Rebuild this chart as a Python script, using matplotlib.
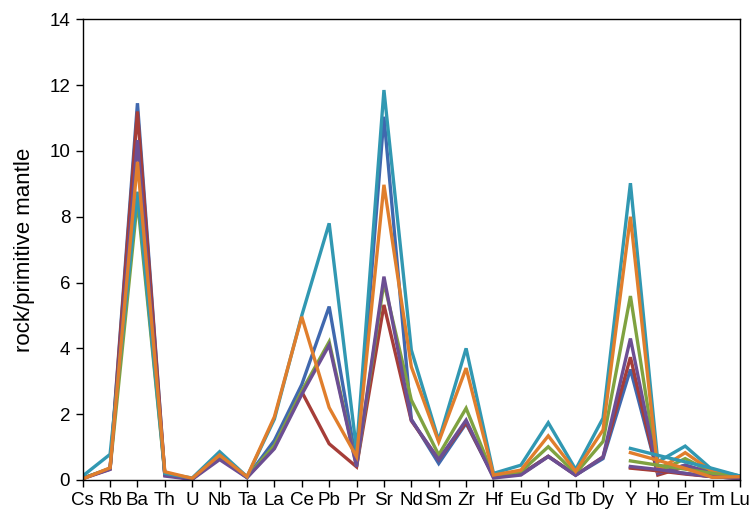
import numpy as np
import matplotlib
matplotlib.use("Agg")
import matplotlib.pyplot as plt

plt.rcParams['font.family'] = ['Liberation Sans', 'DejaVu Sans']

elements = ["Cs", "Rb", "Ba", "Th", "U", "Nb", "Ta", "La", "Ce", "Pb", "Pr", "Sr", "Nd",
            "Sm", "Zr", "Hf", "Eu", "Gd", "Tb", "Dy", "Y", "Ho", "Er", "Tm", "Lu"]

nan = np.nan
# main series (full pattern)
s_blue = [0.05, 0.35, 11.45, 0.15, 0.03, 0.7, 0.08, 1.2, 2.9, 5.27, 0.5, 11.04, 1.85,
          0.5, 1.72, 0.1, 0.18, 0.72, 0.15, 0.65, 3.36, 0.2, 0.45, 0.2, 0.08]
s_red = [0.05, 0.33, 11.2, 0.15, 0.03, 0.68, 0.08, 1.0, 2.68, 1.1, 0.4, 5.32, 1.8,
         0.62, 1.75, 0.1, 0.17, 0.72, 0.15, 0.7, 3.73, 0.15, 0.4, 0.18, 0.07]
s_green = [0.05, 0.35, 8.5, 0.18, 0.04, 0.72, 0.1, 1.05, 2.7, 4.2, 0.42, 6.0, 2.43,
           0.76, 2.18, 0.12, 0.25, 1.01, 0.2, 1.17, 5.59, 0.25, 0.65, 0.22, 0.09]
s_purple = [0.04, 0.32, 10.33, 0.12, 0.02, 0.62, 0.07, 0.95, 2.6, 4.1, 0.4, 6.18, 1.82,
            0.62, 1.82, 0.06, 0.15, 0.71, 0.14, 0.7, 4.3, 0.2, 0.45, 0.2, 0.08]
s_teal = [0.12, 0.78, 8.76, 0.2, 0.06, 0.86, 0.1, 1.85, 5.0, 7.8, 0.9, 11.85, 3.95,
          1.2, 4.0, 0.2, 0.45, 1.74, 0.32, 1.88, 9.02, 0.55, 1.03, 0.3, 0.12]
s_orange = [0.03, 0.37, 9.67, 0.25, 0.05, 0.76, 0.1, 1.92, 4.96, 2.2, 0.71, 8.97, 3.44,
            1.16, 3.4, 0.15, 0.3, 1.34, 0.26, 1.52, 8.0, 0.3, 0.83, 0.25, 0.1]

# HREE tail series (start at Y)
t_blue = [nan] * 20 + [0.38, 0.3, 0.2, 0.1, 0.05]
t_red = [nan] * 20 + [0.36, 0.28, 0.18, 0.1, 0.05]
t_green = [nan] * 20 + [0.58, 0.45, 0.33, 0.2, 0.1]
t_purple = [nan] * 20 + [0.41, 0.32, 0.2, 0.1, 0.05]
t_teal = [nan] * 20 + [0.96, 0.75, 0.55, 0.35, 0.12]
t_orange = [nan] * 20 + [0.83, 0.6, 0.35, 0.08, 0.1]

colors = {"blue": "#4068AE", "red": "#A63D38", "green": "#7FA240",
          "purple": "#6C4E93", "teal": "#3198B2", "orange": "#E07E2C"}

fig = plt.figure(figsize=(7.53, 5.16), dpi=100)
ax = fig.add_axes([0.1098, 0.0698, 0.8729, 0.8928])

x = np.arange(len(elements))
lw = 2.4
series = [("blue", s_blue, t_blue), ("red", s_red, t_red), ("green", s_green, t_green),
          ("purple", s_purple, t_purple), ("teal", s_teal, t_teal), ("orange", s_orange, t_orange)]
for name, s, t in series:
    ax.plot(x, s, color=colors[name], lw=lw, solid_joinstyle='miter')
for name, s, t in series:
    ax.plot(x, t, color=colors[name], lw=lw, solid_joinstyle='miter')

ax.set_xlim(0, len(elements) - 1)
ax.set_ylim(0, 14)
ax.set_xticks(x)
ax.set_xticklabels(elements, fontsize=13.5)
ax.set_yticks(np.arange(0, 15, 2))
ax.set_yticklabels([str(v) for v in range(0, 15, 2)], fontsize=13.5)
ax.tick_params(axis='both', direction='out', length=5, width=1, colors='black', pad=4)
ax.set_ylabel("rock/primitive mantle", fontsize=16, labelpad=10)
for sp in ax.spines.values():
    sp.set_linewidth(1.0)
    sp.set_color('black')

fig.savefig("out.png", dpi=100)
